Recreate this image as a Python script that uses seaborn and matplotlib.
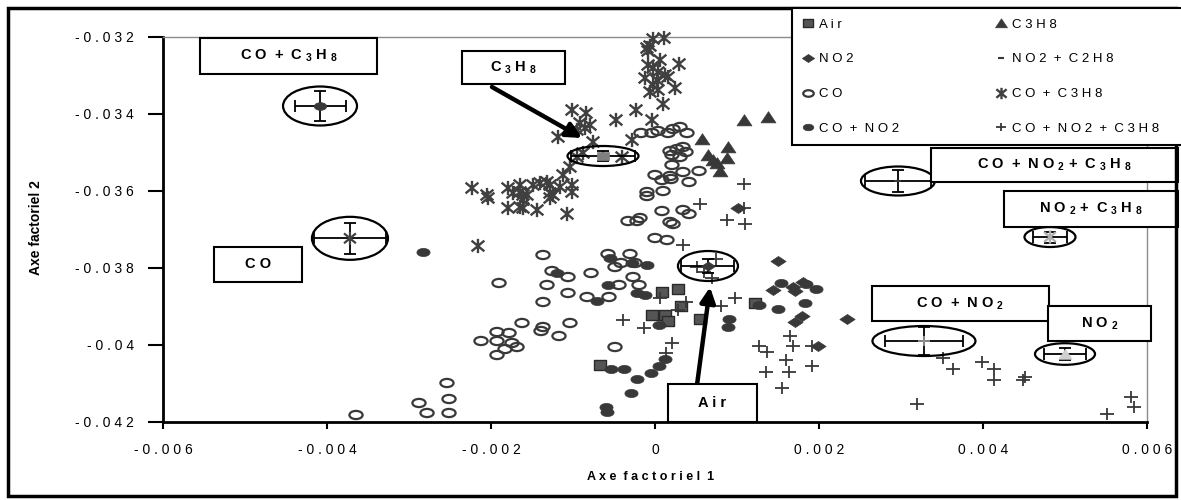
import numpy as np
import pandas as pd
import matplotlib
matplotlib.use("Agg")
import matplotlib.pyplot as plt
import seaborn as sns
from matplotlib.path import Path
from matplotlib.transforms import Affine2D
from matplotlib.patches import Ellipse, Rectangle
from matplotlib.lines import Line2D
from matplotlib.ticker import FuncFormatter, FixedLocator

# ---------------- data (both axes in units of 1e-3) ----------------
air_x = [0.085, 0.280, 0.317, -0.037, 0.122, 0.159, 0.549, -0.671, 1.220]
air_y = [-38.631, -38.553, -38.995, -39.229, -39.229, -39.384, -39.332, -40.527, -38.917]

no2_x = [1.012, 1.500, 1.439, 1.683, 1.707, 1.805, 1.707, 1.793, 2.341, 1.988]
no2_y = [-36.449, -37.826, -38.579, -38.501, -38.605, -38.372, -39.410, -39.255, -39.332, -40.034]

co_x = [-0.171, -0.037, 0.037, 0.159, 0.220, 0.305, 0.390, 0.183, 0.268, 0.341, 0.207, 0.305,
        0.378, 0.207, 0.341, 0.537, 0.000, 0.085, 0.183, 0.195, 0.415, -0.098, -0.098, 0.098,
        0.085, 0.341, 0.415, -0.183, -0.220, -0.329, 0.183, 0.220, 0.000, 0.146, -0.573, -0.305,
        -1.366, -1.256, -1.061, -0.780, -0.488, -0.415, -0.244, -1.902, -1.317, -1.061, -1.366, -0.829,
        -0.561, -0.439, -0.268, -0.195, -1.622, -1.037, -1.366, -1.390, -1.171, -1.927, -1.780, -2.122,
        -1.927, -1.744, -1.683, -1.829, -1.927, -0.488, -2.537, -2.512, -2.878, -2.780, -2.512, -3.646]
co_y = [-34.501, -34.501, -34.449, -34.501, -34.397, -34.345, -34.501, -34.969, -34.917, -34.865, -35.073, -35.125,
        -34.995, -35.332, -35.514, -35.488, -35.592, -35.722, -35.618, -35.696, -35.774, -36.034, -36.138, -36.008,
        -36.527, -36.501, -36.605, -36.709, -36.787, -36.787, -36.813, -36.865, -37.229, -37.281, -37.644, -37.644,
        -37.670, -38.086, -38.242, -38.138, -37.982, -37.878, -37.878, -38.397, -38.449, -38.657, -38.891, -38.761,
        -38.761, -38.449, -38.242, -38.449, -39.436, -39.436, -39.540, -39.644, -39.774, -39.670, -39.696, -39.904,
        -39.904, -39.956, -40.060, -40.112, -40.268, -40.060, -40.995, -41.410, -41.514, -41.774, -41.774, -41.826]

co_no2_x = [-2.829, -1.195, -0.549, -0.280, -0.098, -0.573, -0.220, -0.122, -0.707, 0.049, -0.537, -0.378,
            -0.220, -0.049, 0.049, 0.122, -0.293, -0.598, -0.585, 0.902, 0.890, 1.500, 1.829, 1.537,
            1.963, 1.841, 1.268]
co_no2_y = [-37.592, -38.138, -37.748, -37.878, -37.930, -38.449, -38.657, -38.709, -38.865, -39.488, -40.631, -40.631,
            -40.891, -40.735, -40.553, -40.371, -41.255, -41.618, -41.748, -39.332, -39.540, -39.073, -38.917, -38.397,
            -38.553, -38.423, -38.969]

c3h8_x = [1.085, 1.378, 0.573, 0.890, 0.646, 0.756, 0.878, 0.793, 0.707]
c3h8_y = [-34.164, -34.086, -34.657, -34.865, -35.073, -35.281, -35.151, -35.488, -35.203]

no2_c2h8_x = []
no2_c2h8_y = []

co_c3h8_x = [-0.024, 0.110, -0.098, -0.085, -0.061, 0.061, 0.293, -0.085, -0.024, 0.037, 0.122, 0.159,
             -0.122, 0.024, -0.024, -0.061, 0.037, 0.244, 0.098, -0.232, -0.476, -0.037, -0.280, -0.402,
             -1.012, -0.841, -0.915, -0.793, -0.854, -1.183, -0.951, -0.756, -0.951, -0.878, -1.037, -1.122,
             -2.232, -2.049, -2.037, -1.793, -1.793, -1.646, -1.610, -1.561, -1.646, -1.439, -1.488, -1.402,
             -1.317, -1.280, -1.244, -1.280, -1.159, -1.012, -1.012, -1.073, -1.646, -1.732, -1.610, -1.280,
             -1.610, -2.159]
co_c3h8_y = [-32.060, -32.034, -32.294, -32.371, -32.242, -32.605, -32.709, -32.735, -32.813, -32.917, -32.995, -33.047,
             -33.073, -33.125, -33.255, -33.436, -33.384, -33.332, -33.748, -33.904, -34.164, -34.164, -34.683, -35.125,
             -33.904, -33.982, -34.242, -34.294, -34.371, -34.605, -34.423, -34.735, -35.125, -35.021, -35.384, -35.592,
             -35.930, -36.112, -36.190, -35.930, -36.449, -36.034, -36.242, -36.112, -36.423, -36.501, -35.852, -35.800,
             -35.774, -35.852, -36.112, -36.190, -35.904, -35.852, -36.034, -36.605, -35.852, -36.060, -36.112, -36.060,
             -36.449, -37.436]

co_no2_c3h8_x = [1.085, 0.549, 1.085, 0.878, 1.098, 0.341, 0.744, 0.512, 0.598, 0.695, 0.061, 0.378,
                 0.280, 0.805, 0.976, -0.390, -0.134, 0.207, 0.134, 1.646, 1.683, 1.268, 1.366, 1.915,
                 1.598, 1.915, 1.634, 1.354, 1.549, 3.195, 3.512, 3.634, 3.988, 4.134, 4.134, 4.512,
                 4.488, 5.805, 5.841, 5.512]
co_no2_c3h8_y = [-35.826, -36.345, -36.449, -36.761, -36.865, -37.410, -37.774, -37.982, -38.112, -38.268, -38.787, -38.891,
                 -39.099, -38.995, -38.787, -39.358, -39.566, -39.956, -40.216, -39.774, -40.034, -40.034, -40.190, -40.034,
                 -40.397, -40.553, -40.709, -40.709, -41.125, -41.540, -40.345, -40.631, -40.449, -40.631, -40.917, -40.839,
                 -40.917, -41.358, -41.618, -41.800]

# group means and standard deviations (units of 1e-3)
group_names = ["CO + C3H8", "C3H8", "CO + NO2 + C3H8", "NO2 + C3H8", "CO + NO2", "NO2", "CO", "Air"]
mean_x = [-4.085, -0.634, 2.963, 4.817, 3.280, 5.000, -3.720, 0.646]
mean_y = [-33.800, -35.099, -35.748, -37.203, -39.904, -40.242, -37.237, -37.956]
sd_x = [0.311, 0.390, 0.402, 0.207, 0.476, 0.262, 0.440, 0.323]
sd_y = [0.390, 0.130, 0.286, 0.143, 0.364, 0.160, 0.403, 0.180]

series_labels = ["Air", "NO2", "CO", "CO + NO2", "C3H8", "NO2 + C2H8", "CO + C3H8", "CO + NO2 + C3H8"]
x_ticks = [-6, -4, -2, 0, 2, 4, 6]
y_ticks = [-42, -40, -38, -36, -34, -32]
x_title = "Axe factoriel 1"
y_title = "Axe factoriel 2"
box_texts = ["C O  +  C $_3$ H $_8$", "C $_3$ H $_8$", "C O  +  N O $_2$ +  C $_3$ H $_8$",
             "N O $_2$ +  C $_3$ H $_8$", "C O  +  N O $_2$", "N O $_2$", "C O", "A i r"]

SCALE = 1e-3

# ---------------- style ----------------
W, H = 1181, 500
plt.rcParams['font.family'] = ['Liberation Sans', 'DejaVu Sans']
plt.rcParams['mathtext.fontset'] = 'custom'
plt.rcParams['mathtext.rm'] = 'Liberation Sans:bold'
plt.rcParams['mathtext.bf'] = 'Liberation Sans:bold'
plt.rcParams['mathtext.it'] = 'Liberation Sans:bold'
plt.rcParams['mathtext.default'] = 'regular'

DARK = '#383838'

M, L = Path.MOVETO, Path.LINETO
oval = Path.unit_circle().transformed(Affine2D().scale(1.0, 0.62))
rect = Path([(-1, -0.72), (1, -0.72), (1, 0.72), (-1, 0.72), (-1, -0.72)], closed=True)
diam = Path([(0, 0.66), (1, 0), (0, -0.66), (-1, 0), (0, 0.66)], closed=True)
tri = Path([(0, 0.78), (1, -0.72), (-1, -0.72), (0, 0.78)], closed=True)
aster = Path([(0, -1), (0, 1), (-0.9, -0.75), (0.9, 0.75), (-0.9, 0.75), (0.9, -0.75)],
             [M, L, M, L, M, L])
plus = Path([(-1, 0), (1, 0), (0, -0.85), (0, 0.85)], [M, L, M, L])
dash = Path([(-1, 0), (1, 0)], [M, L])

series = [
    (air_x, air_y, dict(marker=rect, s=85, color='#555555', edgecolor='#2a2a2a', linewidth=1.0)),
    (no2_x, no2_y, dict(marker=diam, s=120, color=DARK, edgecolor=DARK, linewidth=0.5)),
    (co_x, co_y, dict(marker=oval, s=90, color=DARK, facecolor='none', edgecolor=DARK, linewidth=1.6)),
    (co_no2_x, co_no2_y, dict(marker=oval, s=90, color=DARK, edgecolor=DARK, linewidth=0.5)),
    (c3h8_x, c3h8_y, dict(marker=tri, s=115, color=DARK, edgecolor=DARK, linewidth=0.5)),
    (no2_c2h8_x, no2_c2h8_y, dict(marker=dash, s=30, color=DARK, facecolor='none', edgecolor=DARK, linewidth=1.5)),
    (co_c3h8_x, co_c3h8_y, dict(marker=aster, s=105, color='#404040', facecolor='none', edgecolor='#404040', linewidth=1.7)),
    (co_no2_c3h8_x, co_no2_c3h8_y, dict(marker=plus, s=90, color=DARK, facecolor='none', edgecolor=DARK, linewidth=1.3)),
]

# markers drawn at the centre of each group (ellipse)
center_style = [
    dict(marker=oval, s=80, color=DARK, edgecolor=DARK, linewidth=0.5),
    dict(marker=rect, s=70, color='#808080', edgecolor='#808080', linewidth=0.5),
    dict(marker=dash, s=25, color=DARK, facecolor='none', edgecolor=DARK, linewidth=1.5),
    dict(marker=aster, s=90, color='#b0b0b0', facecolor='none', edgecolor='#b0b0b0', linewidth=1.6),
    dict(marker=plus, s=80, color='#909090', facecolor='none', edgecolor='#909090', linewidth=1.3),
    dict(marker=tri, s=90, color='#d0d0d0', edgecolor='#d0d0d0', linewidth=0.5),
    dict(marker=aster, s=90, color='#404040', facecolor='none', edgecolor='#404040', linewidth=1.6),
    dict(marker=diam, s=100, color=DARK, edgecolor=DARK, linewidth=0.5),
]
ell_w = [0.902, 0.866, 0.902, 0.622, 1.256, 0.732, 0.927, 0.732]
ell_h = [1.013, 0.520, 0.753, 0.519, 0.779, 0.561, 1.117, 0.779]

# label boxes in pixel layout (left, top, right, bottom)
box_px = [(200, 38, 377, 74), (462, 51, 565, 84), (931, 148, 1178, 182), (1004, 191, 1178, 227),
          (872, 286, 1049, 321), (1048, 306, 1151, 341), (214, 247, 302, 282), (668, 384, 757, 422)]

# ---------------- figure ----------------
fig = plt.figure(figsize=(W / 100, H / 100), dpi=100)
fig.patch.set_facecolor('white')
ax = fig.add_axes([163 / W, 1 - 421.7 / H, 984 / W, 385 / H])
ax.set_facecolor('white')

for xs, ys, kw in series:
    if len(xs):
        sns.scatterplot(x=np.array(xs) * SCALE, y=np.array(ys) * SCALE, ax=ax, legend=False,
                        zorder=3, clip_on=False, **kw)

for i in range(len(group_names)):
    cx, cy = mean_x[i] * SCALE, mean_y[i] * SCALE
    ax.add_patch(Ellipse((cx, cy), ell_w[i] * SCALE, ell_h[i] * SCALE, fill=False,
                         ec='black', lw=1.6, zorder=4))
    ax.errorbar([cx], [cy], xerr=[sd_x[i] * SCALE], yerr=[sd_y[i] * SCALE], fmt='none',
                ecolor='black', elinewidth=1.3, capsize=4, capthick=1.3, zorder=4)
    sns.scatterplot(x=[cx], y=[cy], ax=ax, legend=False, zorder=5, **center_style[i])

ax.set_xlim(x_ticks[0] * SCALE, x_ticks[-1] * SCALE)
ax.set_ylim(y_ticks[0] * SCALE, y_ticks[-1] * SCALE)
ax.xaxis.set_major_locator(FixedLocator(np.array(x_ticks) * SCALE))
ax.yaxis.set_major_locator(FixedLocator(np.array(y_ticks) * SCALE))


def spaced(v, pos):
    s = f"{round(v, 6):g}"
    if s == "-0":
        s = "0"
    return " ".join(s)


ax.xaxis.set_major_formatter(FuncFormatter(spaced))
ax.yaxis.set_major_formatter(FuncFormatter(spaced))
ax.tick_params(axis='x', direction='out', length=5, width=1.5, pad=10, labelsize=10, colors='black')
ax.tick_params(axis='y', direction='out', length=11, width=1.5, pad=10, labelsize=10, colors='black')
for side in ['left', 'bottom']:
    ax.spines[side].set_color('black')
    ax.spines[side].set_linewidth(2)
for side in ['top', 'right']:
    ax.spines[side].set_color('#8c8c8c')
    ax.spines[side].set_linewidth(1)

ax.set_xlabel(" ".join(x_title).replace("   ", "  "), fontsize=9, fontweight='bold')
ax.xaxis.set_label_coords(0.495, -0.128)
ax.set_ylabel(y_title, fontsize=10, fontweight='bold')
ax.yaxis.set_label_coords(-0.122, 0.504)

# arrows
ax.annotate("", xy=(-0.890 * SCALE, -34.631 * SCALE), xytext=(-1.988 * SCALE, -33.306 * SCALE),
            arrowprops=dict(arrowstyle='-|>,head_length=0.9,head_width=0.45', lw=3.2, color='black',
                            shrinkA=0, shrinkB=0), annotation_clip=False, zorder=6)
ax.annotate("", xy=(0.671 * SCALE, -38.504 * SCALE), xytext=(0.512 * SCALE, -41.047 * SCALE),
            arrowprops=dict(arrowstyle='-|>,head_length=0.9,head_width=0.45', lw=3.2, color='black',
                            shrinkA=0, shrinkB=0), annotation_clip=False, zorder=6)


# legend
def handle(kw):
    fc = kw.get('facecolor', kw['color'])
    return Line2D([], [], linestyle='none', marker=kw['marker'], markersize=np.sqrt(kw['s']) * 0.8,
                  markerfacecolor=fc, markeredgecolor=kw['edgecolor'], markeredgewidth=kw['linewidth'])


handles = [handle(kw) for _, _, kw in series]
leg_labels = [" ".join(lab.replace(" + ", "+")).replace("+", " + ") for lab in series_labels]
leg_labels[-1] = leg_labels[-1] + "    "
leg = fig.legend(handles, leg_labels, ncol=2, loc='upper left', bbox_to_anchor=(792 / W, 1 - 8 / H),
                 bbox_transform=fig.transFigure, frameon=True, fancybox=False, edgecolor='black',
                 framealpha=1, fontsize=9.5, borderpad=0.8, labelspacing=1.7, handlelength=0.8,
                 handletextpad=0.45, columnspacing=7.3, borderaxespad=0)
leg.get_frame().set_linewidth(1.5)
leg.set_zorder(40)

# label boxes
for txt, (l, t, r, b) in zip(box_texts, box_px):
    fig.add_artist(Rectangle((l / W, 1 - b / H), (r - l) / W, (b - t) / H, transform=fig.transFigure,
                             facecolor='white', edgecolor='black', lw=1.5, zorder=20))
    fig.text((l + r) / 2 / W, 1 - (t + b) / 2 / H, txt, ha='center', va='center', fontsize=10.5,
             fontweight='bold', zorder=21)

# outer border
fig.add_artist(Rectangle((8 / W, 1 - 496 / H), (1176 - 8) / W, (496 - 8) / H, transform=fig.transFigure,
                         fill=False, edgecolor='black', lw=2.5, zorder=30))

fig.savefig("out.png", dpi=100)
